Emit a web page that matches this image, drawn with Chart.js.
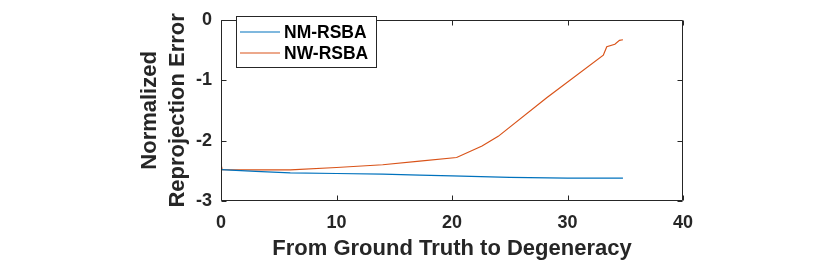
<!DOCTYPE html>
<html>
<head>
<meta charset="utf-8">
<script src="https://cdn.jsdelivr.net/npm/chart.js@4/dist/chart.umd.min.js"></script>
<style>
html,body{margin:0;padding:0;background:#fff;}
#wrap{width:830px;height:264px;position:relative;}
</style>
</head>
<body>
<div id="wrap"><canvas id="c" width="830" height="264"></canvas></div>
<script>
// Data
const nmX = [0, 3, 6, 10, 14, 17.2, 20, 25, 30, 34.8];
const nmY = [-2.48, -2.51, -2.535, -2.545, -2.555, -2.572, -2.585, -2.61, -2.62, -2.62];
const nwX = [0, 0.1, 3, 6, 10, 14, 17.2, 20.4, 22.6, 24.0, 28.2, 33.1, 33.4, 34.1, 34.5, 34.8];
const nwY = [-2.39, -2.48, -2.485, -2.485, -2.445, -2.40, -2.34, -2.28, -2.09, -1.93, -1.29, -0.585, -0.446, -0.405, -0.34, -0.33];
const seriesNames = ['NM-RSBA', 'NW-RSBA'];
const xTicks = [0, 10, 20, 30, 40];
const yTicks = [-3, -2, -1, 0];
const xTitle = 'From Ground Truth to Degeneracy';
const yTitle = ['Normalized', 'Reprojection Error'];

const FONT = "'Liberation Sans', Arial, Helvetica, sans-serif";
const AXC = '#262626';
const BLUE = '#0072BD';
const ORANGE = '#D95319';

const toPts = (xs, ys) => xs.map((x, i) => ({x: x, y: ys[i]}));

const boxPlugin = {
  id: 'boxPlugin',
  afterDatasetsDraw(chart) {
    const ctx = chart.ctx;
    const a = chart.chartArea;
    const xs = chart.scales.x, ys = chart.scales.y;
    const L = Math.round(a.left) + 0.5, R = Math.round(a.right) - 0.5;
    const T = Math.round(a.top) + 0.5, B = Math.round(a.bottom) - 0.5;
    ctx.save();
    ctx.strokeStyle = AXC;
    ctx.lineWidth = 1;
    ctx.beginPath();
    ctx.rect(L, T, R - L, B - T);
    ctx.stroke();
    const tl = 5;
    ctx.beginPath();
    xTicks.forEach(v => {
      const px = Math.round(xs.getPixelForValue(v)) + 0.5;
      ctx.moveTo(px, B); ctx.lineTo(px, B - tl);
      ctx.moveTo(px, T); ctx.lineTo(px, T + tl);
    });
    yTicks.forEach(v => {
      const py = Math.round(ys.getPixelForValue(v)) + 0.5;
      ctx.moveTo(L, py); ctx.lineTo(L + tl, py);
      ctx.moveTo(R, py); ctx.lineTo(R - tl, py);
    });
    ctx.stroke();

    // legend
    const lx = 236.5, ly = 16.5, lw = 140, lh = 51;
    ctx.fillStyle = '#fff';
    ctx.fillRect(lx, ly, lw, lh);
    ctx.strokeStyle = AXC;
    ctx.strokeRect(lx, ly, lw, lh);
    ctx.font = 'bold 17.5px ' + FONT;
    ctx.textBaseline = 'middle';
    ctx.textAlign = 'left';
    chart.data.datasets.forEach((ds, i) => {
      const yy = 32 + i * 21;
      ctx.strokeStyle = ds.borderColor;
      ctx.lineWidth = 1.2;
      ctx.beginPath();
      ctx.moveTo(240, yy); ctx.lineTo(280, yy);
      ctx.stroke();
      ctx.fillStyle = '#000';
      ctx.fillText(ds.label, 284, yy + 1);
    });
    ctx.restore();
  }
};

new Chart(document.getElementById('c'), {
  type: 'line',
  data: {
    datasets: [
      {label: seriesNames[0], data: toPts(nmX, nmY), borderColor: BLUE, backgroundColor: BLUE, borderWidth: 1.2, pointRadius: 0, tension: 0, fill: false},
      {label: seriesNames[1], data: toPts(nwX, nwY), borderColor: ORANGE, backgroundColor: ORANGE, borderWidth: 1.2, pointRadius: 0, tension: 0, fill: false}
    ]
  },
  options: {
    responsive: false,
    animation: false,
    events: [],
    layout: {autoPadding: false, padding: {top: 6, right: 147, bottom: 0, left: 0}},
    plugins: {legend: {display: false}, tooltip: {enabled: false}},
    scales: {
      x: {
        type: 'linear', min: 0, max: 40,
        afterBuildTicks: s => { s.ticks = xTicks.map(v => ({value: v})); },
        afterFit: s => { s.height = 63; },
        grid: {display: false, drawTicks: false},
        border: {display: false},
        ticks: {color: AXC, font: {family: FONT, size: 18, weight: 'bold'}, padding: 11, maxRotation: 0, callback: v => String(v)},
        title: {display: true, text: xTitle, color: AXC, font: {family: FONT, size: 22, weight: 'bold', lineHeight: 1.2}, padding: {top: 0, bottom: 2}}
      },
      y: {
        type: 'linear', min: -3, max: 0,
        afterBuildTicks: s => { s.ticks = yTicks.map(v => ({value: v})); },
        afterFit: s => { s.width = 221; },
        grid: {display: false, drawTicks: false},
        border: {display: false},
        ticks: {color: AXC, font: {family: FONT, size: 18, weight: 'bold'}, padding: 9, callback: v => String(v)},
        title: {display: true, text: yTitle, color: AXC, font: {family: FONT, size: 22, weight: 'bold', lineHeight: 1.27}, padding: {top: 136, bottom: 0}}
      }
    }
  },
  plugins: [boxPlugin]
});
</script>
</body>
</html>
